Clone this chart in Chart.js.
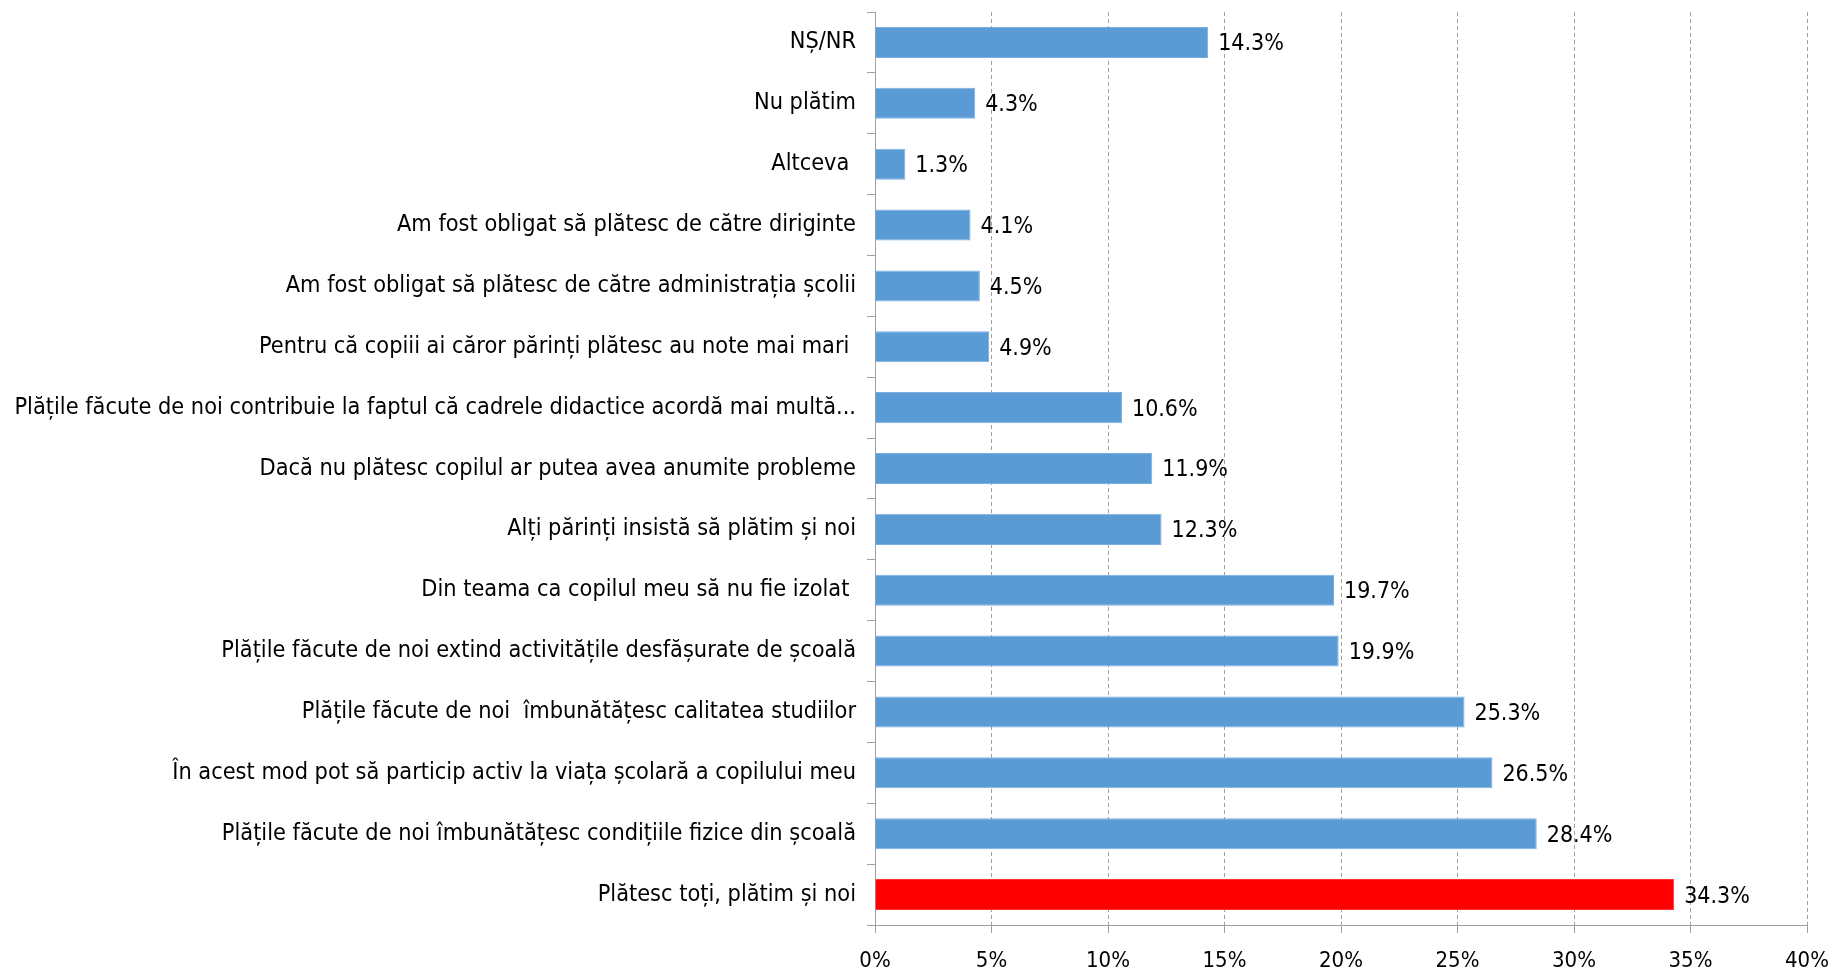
<!DOCTYPE html>
<html>
<head>
<meta charset="utf-8">
<script src="https://cdn.jsdelivr.net/npm/chart.js@4.4.0/dist/chart.umd.min.js"></script>
<style>
html,body{margin:0;padding:0;background:#fff;}
#wrap{width:1831px;height:971px;position:relative;}
</style>
</head>
<body>
<div id="wrap"><canvas id="c" width="1831" height="971"></canvas></div>
<script>
const categories = [
  "NȘ/NR",
  "Nu plătim",
  "Altceva ",
  "Am fost obligat să plătesc de către diriginte",
  "Am fost obligat să plătesc de către administrația școlii",
  "Pentru că copiii ai căror părinți plătesc au note mai mari ",
  "Plățile făcute de noi contribuie la faptul că cadrele didactice acordă mai multă...",
  "Dacă nu plătesc copilul ar putea avea anumite probleme",
  "Alți părinți insistă să plătim și noi",
  "Din teama ca copilul meu să nu fie izolat ",
  "Plățile făcute de noi extind activitățile desfășurate de școală",
  "Plățile făcute de noi  îmbunătățesc calitatea studiilor",
  "În acest mod pot să particip activ la viața școlară a copilului meu",
  "Plățile făcute de noi îmbunătățesc condițiile fizice din școală",
  "Plătesc toți, plătim și noi"
];
const values = [14.3, 4.3, 1.3, 4.1, 4.5, 4.9, 10.6, 11.9, 12.3, 19.7, 19.9, 25.3, 26.5, 28.4, 34.3];
const highlighted = [false,false,false,false,false,false,false,false,false,false,false,false,false,false,true];
const xTicks = [0, 5, 10, 15, 20, 25, 30, 35, 40];

const FONT = '"DejaVu Sans Condensed", "DejaVu Sans", sans-serif';
const FS_Y = 23.3;
const FS_X = 22;
const FS_VAL = 23;
const BLUE = '#5B9BD5';
const BLUE_EDGE = '#7AAEDF';
const RED = '#FF0000';
const RED_EDGE = '#FF3333';

const valueLabels = {
  id: 'valueLabels',
  afterDatasetsDraw(chart) {
    const ctx = chart.ctx;
    const meta = chart.getDatasetMeta(0);
    ctx.save();
    ctx.font = FS_VAL + 'px ' + FONT;
    ctx.fillStyle = '#000';
    ctx.textAlign = 'left';
    ctx.textBaseline = 'middle';
    meta.data.forEach((bar, i) => {
      ctx.fillText(values[i].toFixed(1) + '%', bar.x + 10, bar.y + 2);
    });
    ctx.restore();
  }
};

new Chart(document.getElementById('c'), {
  type: 'bar',
  data: {
    labels: categories,
    datasets: [{
      data: values,
      backgroundColor: highlighted.map(h => h ? RED : BLUE),
      borderColor: highlighted.map(h => h ? RED_EDGE : BLUE_EDGE),
      borderWidth: 1,
      barPercentage: 0.51,
      categoryPercentage: 1.0
    }]
  },
  plugins: [valueLabels],
  options: {
    indexAxis: 'y',
    responsive: false,
    animation: false,
    layout: { padding: { top: 12, right: 24, left: 0, bottom: 0 } },
    plugins: { legend: { display: false }, tooltip: { enabled: false } },
    scales: {
      x: {
        min: 0, max: 40,
        afterBuildTicks(scale) { scale.ticks = xTicks.map(v => ({ value: v })); },
        afterFit(scale) { scale.height = 46; scale.paddingLeft = 0; scale.paddingRight = 0; },
        ticks: {
          callback: v => v + '%',
          font: { family: FONT, size: FS_X },
          color: '#000',
          padding: 15,
          maxRotation: 0
        },
        grid: {
          color: '#a0a0a0',
          lineWidth: 1,
          tickLength: 8,
          tickBorderDash: [],
          drawTicks: true
        },
        border: { display: true, color: '#a0a0a0', width: 1, dash: [4, 3] }
      },
      y: {
        afterFit(scale) { scale.width = 875; scale.paddingTop = 0; scale.paddingBottom = 0; },
        ticks: {
          font: { family: FONT, size: FS_Y },
          color: '#000',
          padding: 11,
          autoSkip: false
        },
        grid: {
          drawOnChartArea: false,
          drawTicks: true,
          tickLength: 8,
          color: '#a0a0a0',
          offset: true
        },
        border: { display: true, color: '#a0a0a0', width: 1 }
      }
    }
  }
});
</script>
</body>
</html>
